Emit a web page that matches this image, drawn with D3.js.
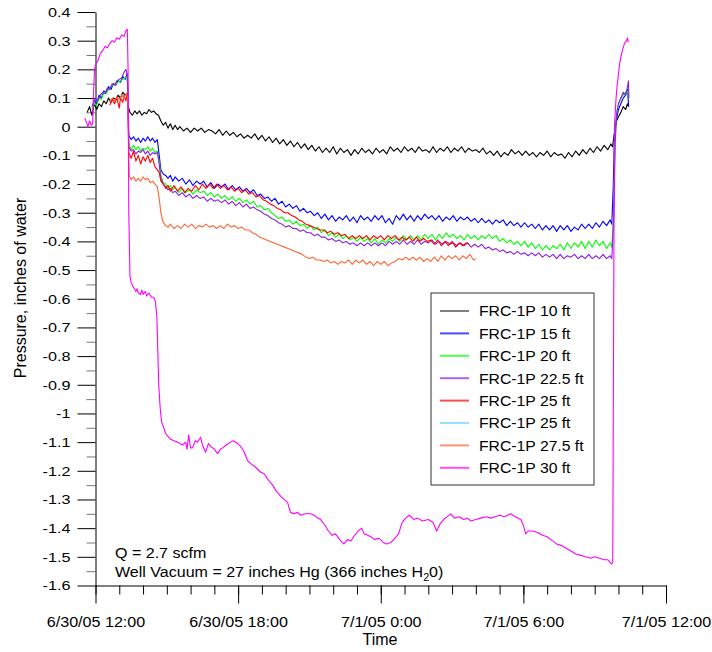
<!DOCTYPE html>
<html>
<head>
<meta charset="utf-8">
<script src="https://cdn.jsdelivr.net/npm/d3@7"></script>
<style>
  body { margin: 0; background: #fff; }
  svg text { font-family: "Liberation Sans", Arial, sans-serif; fill: #000; }
</style>
</head>
<body>
<div id="chart"></div>
<script>
// pressure readings, FRC-1P probe depths
// each point is [hours after 6/30/05 12:00, inches of water]

var frc10 = [[-0.35,0.05],[-0.25,0.07],[-0.15,0.04],[-0.05,0.08],[0.05,0.06],[0.15,0.08],[0.25,0.07],[0.35,0.09],[0.45,0.08],[0.55,0.1],[0.65,0.085],[0.75,0.1],[0.85,0.095],[0.95,0.11],[1.05,0.1],[1.15,0.12],[1.25,0.11],[1.33,0.115],[1.38,0.07],[1.45,0.05],[1.55,0.04],[1.65,0.055],[1.75,0.045],[1.85,0.055],[1.95,0.04],[2.05,0.05],[2.15,0.045],[2.25,0.06],[2.35,0.05],[2.45,0.055],[2.55,0.045],[2.65,0.04],[2.75,0.02],[2.85,0.005],[2.95,0.015],[3.05,-0.005],[3.15,0.01],[3.25,-0.01],[3.35,0.005],[3.45,-0.01],[3.55,0.0],[3.7,-0.015],[3.85,-0.005],[4.0,-0.02],[4.15,-0.005],[4.3,-0.015],[4.45,-0.005],[4.6,-0.02],[4.75,-0.01],[4.9,-0.015],[5.05,-0.025],[5.2,-0.01],[5.35,-0.03],[5.5,-0.015],[5.65,-0.03],[5.8,-0.02],[5.95,-0.035],[6.1,-0.025],[6.25,-0.04],[6.4,-0.03],[6.55,-0.04],[6.7,-0.025],[6.85,-0.045],[7.0,-0.03],[7.15,-0.05],[7.3,-0.035],[7.45,-0.055],[7.6,-0.04],[7.75,-0.06],[7.9,-0.045],[8.05,-0.065],[8.2,-0.05],[8.35,-0.07],[8.5,-0.055],[8.65,-0.075],[8.8,-0.06],[8.95,-0.08],[9.1,-0.065],[9.25,-0.085],[9.4,-0.07],[9.55,-0.09],[9.7,-0.075],[9.85,-0.09],[10.0,-0.07],[10.15,-0.095],[10.3,-0.075],[10.45,-0.09],[10.6,-0.08],[10.75,-0.1],[10.9,-0.08],[11.05,-0.095],[11.2,-0.075],[11.35,-0.09],[11.5,-0.08],[11.65,-0.095],[11.8,-0.075],[11.95,-0.09],[12.1,-0.08],[12.25,-0.095],[12.4,-0.07],[12.55,-0.085],[12.7,-0.075],[12.85,-0.09],[13.0,-0.07],[13.15,-0.085],[13.3,-0.075],[13.45,-0.09],[13.6,-0.07],[13.75,-0.085],[13.9,-0.08],[14.05,-0.09],[14.2,-0.07],[14.35,-0.09],[14.5,-0.075],[14.65,-0.085],[14.8,-0.07],[14.95,-0.09],[15.1,-0.075],[15.25,-0.085],[15.4,-0.07],[15.55,-0.09],[15.7,-0.075],[15.85,-0.085],[16.0,-0.08],[16.15,-0.09],[16.3,-0.075],[16.45,-0.095],[16.6,-0.085],[16.75,-0.1],[16.9,-0.085],[17.05,-0.105],[17.2,-0.09],[17.35,-0.1],[17.5,-0.08],[17.65,-0.095],[17.8,-0.085],[17.95,-0.1],[18.1,-0.085],[18.25,-0.1],[18.4,-0.09],[18.55,-0.105],[18.7,-0.09],[18.85,-0.1],[19.0,-0.085],[19.15,-0.105],[19.3,-0.09],[19.45,-0.1],[19.6,-0.095],[19.75,-0.11],[19.9,-0.09],[20.05,-0.105],[20.2,-0.085],[20.35,-0.1],[20.5,-0.08],[20.65,-0.095],[20.8,-0.075],[20.95,-0.09],[21.1,-0.07],[21.25,-0.085],[21.4,-0.065],[21.55,-0.08],[21.68,-0.06],[21.75,-0.07],[21.8,-0.04],[21.85,-0.01],[21.92,0.02],[22.0,0.035],[22.1,0.05],[22.2,0.07],[22.3,0.06],[22.38,0.08],[22.43,0.07]];

var frc15 = [[-0.15,0.07],[-0.05,0.09],[0.05,0.08],[0.15,0.11],[0.25,0.1],[0.35,0.125],[0.45,0.12],[0.55,0.14],[0.65,0.13],[0.75,0.15],[0.85,0.145],[0.95,0.16],[1.05,0.155],[1.15,0.175],[1.25,0.165],[1.33,0.185],[1.37,0.1],[1.4,-0.03],[1.5,-0.045],[1.6,-0.035],[1.7,-0.05],[1.8,-0.04],[1.9,-0.055],[2.0,-0.04],[2.1,-0.05],[2.2,-0.035],[2.3,-0.05],[2.4,-0.04],[2.5,-0.055],[2.6,-0.045],[2.68,-0.1],[2.75,-0.15],[2.85,-0.165],[2.95,-0.17],[3.05,-0.18],[3.15,-0.17],[3.25,-0.19],[3.35,-0.175],[3.5,-0.19],[3.65,-0.18],[3.8,-0.2],[3.95,-0.185],[4.1,-0.205],[4.25,-0.19],[4.4,-0.2],[4.55,-0.19],[4.7,-0.21],[4.85,-0.195],[5.0,-0.215],[5.15,-0.2],[5.3,-0.21],[5.45,-0.2],[5.6,-0.22],[5.75,-0.205],[5.9,-0.22],[6.05,-0.21],[6.2,-0.225],[6.35,-0.215],[6.5,-0.23],[6.65,-0.22],[6.8,-0.24],[6.95,-0.235],[7.1,-0.25],[7.25,-0.245],[7.4,-0.26],[7.55,-0.25],[7.7,-0.27],[7.85,-0.26],[8.0,-0.28],[8.15,-0.27],[8.3,-0.285],[8.45,-0.275],[8.6,-0.295],[8.75,-0.285],[8.9,-0.3],[9.05,-0.295],[9.2,-0.31],[9.35,-0.3],[9.5,-0.32],[9.65,-0.305],[9.8,-0.325],[9.95,-0.31],[10.1,-0.33],[10.25,-0.315],[10.4,-0.325],[10.55,-0.31],[10.7,-0.33],[10.85,-0.315],[11.0,-0.335],[11.15,-0.31],[11.3,-0.325],[11.45,-0.315],[11.6,-0.33],[11.75,-0.31],[11.9,-0.325],[12.05,-0.31],[12.2,-0.335],[12.35,-0.32],[12.5,-0.34],[12.65,-0.31],[12.8,-0.325],[12.95,-0.305],[13.1,-0.325],[13.25,-0.31],[13.4,-0.33],[13.55,-0.31],[13.7,-0.325],[13.85,-0.305],[14.0,-0.32],[14.15,-0.31],[14.3,-0.325],[14.45,-0.31],[14.6,-0.33],[14.75,-0.315],[14.9,-0.325],[15.05,-0.31],[15.2,-0.33],[15.35,-0.315],[15.5,-0.325],[15.65,-0.315],[15.8,-0.33],[15.95,-0.32],[16.1,-0.335],[16.25,-0.32],[16.4,-0.335],[16.55,-0.325],[16.7,-0.34],[16.85,-0.325],[17.0,-0.335],[17.15,-0.325],[17.3,-0.345],[17.45,-0.33],[17.6,-0.345],[17.75,-0.335],[17.9,-0.35],[18.05,-0.335],[18.2,-0.35],[18.35,-0.34],[18.5,-0.355],[18.65,-0.34],[18.8,-0.36],[18.95,-0.345],[19.1,-0.36],[19.25,-0.345],[19.4,-0.365],[19.55,-0.345],[19.7,-0.36],[19.85,-0.345],[20.0,-0.365],[20.15,-0.35],[20.3,-0.36],[20.45,-0.34],[20.6,-0.355],[20.75,-0.34],[20.9,-0.355],[21.05,-0.335],[21.2,-0.35],[21.35,-0.33],[21.5,-0.345],[21.65,-0.325],[21.72,-0.34],[21.78,-0.21],[21.83,-0.03],[21.9,0.02],[22.0,0.06],[22.1,0.08],[22.2,0.1],[22.3,0.11],[22.38,0.13],[22.43,0.07]];

var frc20 = [[-0.15,0.06],[-0.05,0.08],[0.05,0.075],[0.15,0.1],[0.25,0.095],[0.35,0.12],[0.45,0.115],[0.55,0.13],[0.65,0.14],[0.75,0.145],[0.85,0.15],[0.95,0.155],[1.05,0.16],[1.15,0.165],[1.25,0.17],[1.33,0.175],[1.37,0.1],[1.4,-0.06],[1.5,-0.08],[1.6,-0.065],[1.7,-0.08],[1.8,-0.07],[1.9,-0.085],[2.0,-0.075],[2.1,-0.08],[2.2,-0.07],[2.3,-0.085],[2.4,-0.075],[2.5,-0.09],[2.6,-0.085],[2.68,-0.12],[2.75,-0.17],[2.85,-0.195],[2.95,-0.2],[3.05,-0.215],[3.15,-0.205],[3.25,-0.22],[3.35,-0.21],[3.5,-0.23],[3.65,-0.215],[3.8,-0.23],[3.95,-0.22],[4.1,-0.235],[4.25,-0.22],[4.4,-0.23],[4.55,-0.225],[4.7,-0.24],[4.85,-0.23],[5.0,-0.245],[5.15,-0.235],[5.3,-0.25],[5.45,-0.24],[5.6,-0.255],[5.75,-0.245],[5.9,-0.26],[6.05,-0.25],[6.2,-0.265],[6.35,-0.255],[6.5,-0.27],[6.65,-0.26],[6.8,-0.28],[6.95,-0.275],[7.1,-0.29],[7.25,-0.285],[7.4,-0.3],[7.55,-0.31],[7.7,-0.32],[7.85,-0.315],[8.0,-0.33],[8.15,-0.325],[8.3,-0.34],[8.45,-0.33],[8.6,-0.345],[8.75,-0.34],[8.9,-0.355],[9.05,-0.345],[9.2,-0.36],[9.35,-0.35],[9.5,-0.37],[9.65,-0.36],[9.8,-0.38],[9.95,-0.37],[10.1,-0.385],[10.25,-0.375],[10.4,-0.39],[10.55,-0.38],[10.7,-0.395],[10.85,-0.385],[11.0,-0.4],[11.15,-0.385],[11.3,-0.4],[11.45,-0.39],[11.6,-0.405],[11.75,-0.39],[11.9,-0.41],[12.05,-0.395],[12.2,-0.405],[12.35,-0.39],[12.5,-0.4],[12.65,-0.385],[12.8,-0.4],[12.95,-0.38],[13.1,-0.395],[13.25,-0.38],[13.4,-0.395],[13.55,-0.38],[13.7,-0.395],[13.85,-0.375],[14.0,-0.39],[14.15,-0.375],[14.3,-0.395],[14.45,-0.375],[14.6,-0.39],[14.75,-0.37],[14.9,-0.385],[15.05,-0.375],[15.2,-0.39],[15.35,-0.38],[15.5,-0.395],[15.65,-0.375],[15.8,-0.39],[15.95,-0.38],[16.1,-0.395],[16.25,-0.38],[16.4,-0.39],[16.55,-0.375],[16.7,-0.39],[16.85,-0.38],[17.0,-0.4],[17.15,-0.39],[17.3,-0.405],[17.45,-0.395],[17.6,-0.41],[17.75,-0.4],[17.9,-0.415],[18.05,-0.4],[18.2,-0.42],[18.35,-0.405],[18.5,-0.425],[18.65,-0.41],[18.8,-0.43],[18.95,-0.415],[19.1,-0.43],[19.25,-0.415],[19.4,-0.425],[19.55,-0.41],[19.7,-0.43],[19.85,-0.405],[20.0,-0.425],[20.15,-0.405],[20.3,-0.42],[20.45,-0.4],[20.6,-0.425],[20.75,-0.4],[20.9,-0.42],[21.05,-0.395],[21.2,-0.415],[21.35,-0.4],[21.5,-0.425],[21.65,-0.405],[21.72,-0.42],[21.8,-0.3],[21.86,-0.05],[21.92,0.05],[22.0,0.08],[22.1,0.1],[22.2,0.11],[22.3,0.12],[22.38,0.125],[22.43,0.1]];

var frc22_5 = [[-0.1,0.08],[0.0,0.1],[0.1,0.09],[0.2,0.11],[0.3,0.12],[0.4,0.115],[0.5,0.135],[0.6,0.13],[0.7,0.15],[0.8,0.145],[0.9,0.16],[1.0,0.165],[1.1,0.17],[1.2,0.19],[1.28,0.2],[1.34,0.18],[1.37,0.1],[1.4,-0.07],[1.5,-0.085],[1.6,-0.08],[1.7,-0.095],[1.8,-0.085],[1.9,-0.09],[2.0,-0.08],[2.1,-0.095],[2.2,-0.085],[2.3,-0.1],[2.4,-0.09],[2.5,-0.095],[2.6,-0.09],[2.68,-0.13],[2.75,-0.18],[2.85,-0.2],[2.95,-0.21],[3.05,-0.22],[3.15,-0.215],[3.25,-0.23],[3.35,-0.225],[3.5,-0.24],[3.65,-0.23],[3.8,-0.245],[3.95,-0.235],[4.1,-0.25],[4.25,-0.24],[4.4,-0.25],[4.55,-0.245],[4.7,-0.26],[4.85,-0.25],[5.0,-0.26],[5.15,-0.255],[5.3,-0.265],[5.45,-0.255],[5.6,-0.27],[5.75,-0.26],[5.9,-0.275],[6.05,-0.265],[6.2,-0.28],[6.35,-0.27],[6.5,-0.285],[6.65,-0.28],[6.8,-0.29],[6.95,-0.295],[7.1,-0.305],[7.25,-0.31],[7.4,-0.32],[7.55,-0.325],[7.7,-0.335],[7.85,-0.34],[8.0,-0.35],[8.15,-0.345],[8.3,-0.355],[8.45,-0.355],[8.6,-0.365],[8.75,-0.36],[8.9,-0.37],[9.05,-0.37],[9.2,-0.38],[9.35,-0.375],[9.5,-0.385],[9.65,-0.385],[9.8,-0.395],[9.95,-0.39],[10.1,-0.4],[10.25,-0.395],[10.4,-0.405],[10.55,-0.4],[10.7,-0.41],[10.85,-0.405],[11.0,-0.415],[11.15,-0.405],[11.3,-0.415],[11.45,-0.405],[11.6,-0.415],[11.75,-0.405],[11.9,-0.415],[12.05,-0.405],[12.2,-0.415],[12.35,-0.4],[12.5,-0.41],[12.65,-0.4],[12.8,-0.41],[12.95,-0.395],[13.1,-0.41],[13.25,-0.4],[13.4,-0.41],[13.55,-0.395],[13.7,-0.41],[13.85,-0.4],[14.0,-0.405],[14.15,-0.395],[14.3,-0.41],[14.45,-0.4],[14.6,-0.41],[14.75,-0.4],[14.9,-0.41],[15.05,-0.405],[15.2,-0.415],[15.35,-0.405],[15.5,-0.415],[15.65,-0.405],[15.8,-0.42],[15.95,-0.41],[16.1,-0.42],[16.25,-0.41],[16.4,-0.425],[16.55,-0.42],[16.7,-0.43],[16.85,-0.425],[17.0,-0.435],[17.15,-0.43],[17.3,-0.44],[17.45,-0.435],[17.6,-0.445],[17.75,-0.435],[17.9,-0.445],[18.05,-0.44],[18.2,-0.45],[18.35,-0.44],[18.5,-0.45],[18.65,-0.44],[18.8,-0.455],[18.95,-0.445],[19.1,-0.455],[19.25,-0.445],[19.4,-0.46],[19.55,-0.445],[19.7,-0.46],[19.85,-0.45],[20.0,-0.455],[20.15,-0.445],[20.3,-0.46],[20.45,-0.45],[20.6,-0.46],[20.75,-0.445],[20.9,-0.46],[21.05,-0.45],[21.2,-0.46],[21.35,-0.445],[21.5,-0.46],[21.65,-0.45],[21.72,-0.46],[21.8,-0.32],[21.86,-0.06],[21.92,0.04],[22.0,0.08],[22.1,0.1],[22.2,0.12],[22.3,0.11],[22.38,0.14],[22.42,0.16],[22.44,0.1]];

var frc25 = [[0.6,0.075],[0.7,0.095],[0.8,0.08],[0.9,0.1],[1.0,0.065],[1.05,0.1],[1.15,0.085],[1.2,0.11],[1.28,0.09],[1.34,0.115],[1.37,0.05],[1.4,-0.09],[1.5,-0.11],[1.6,-0.085],[1.7,-0.12],[1.8,-0.1],[1.9,-0.13],[2.0,-0.105],[2.1,-0.12],[2.2,-0.1],[2.3,-0.125],[2.4,-0.11],[2.5,-0.14],[2.6,-0.15],[2.68,-0.16],[2.75,-0.19],[2.85,-0.2],[2.95,-0.215],[3.05,-0.205],[3.15,-0.225],[3.3,-0.205],[3.45,-0.225],[3.6,-0.21],[3.75,-0.23],[3.9,-0.215],[4.05,-0.225],[4.2,-0.205],[4.35,-0.22],[4.5,-0.2],[4.65,-0.215],[4.8,-0.2],[4.95,-0.215],[5.1,-0.2],[5.25,-0.215],[5.4,-0.205],[5.55,-0.22],[5.7,-0.21],[5.85,-0.225],[6.0,-0.215],[6.15,-0.23],[6.3,-0.22],[6.45,-0.235],[6.6,-0.23],[6.75,-0.245],[6.9,-0.24],[7.05,-0.255],[7.2,-0.26],[7.35,-0.27],[7.5,-0.275],[7.65,-0.285],[7.8,-0.29],[7.95,-0.3],[8.1,-0.3],[8.25,-0.31],[8.4,-0.315],[8.55,-0.325],[8.7,-0.33],[8.85,-0.34],[9.0,-0.345],[9.15,-0.35],[9.3,-0.355],[9.45,-0.36],[9.6,-0.36],[9.75,-0.37],[9.9,-0.365],[10.05,-0.375],[10.2,-0.37],[10.35,-0.38],[10.5,-0.375],[10.65,-0.39],[10.8,-0.38],[10.95,-0.39],[11.1,-0.38],[11.25,-0.39],[11.4,-0.38],[11.55,-0.395],[11.7,-0.38],[11.85,-0.39],[12.0,-0.38],[12.15,-0.395],[12.3,-0.38],[12.45,-0.39],[12.6,-0.38],[12.75,-0.395],[12.9,-0.385],[13.05,-0.395],[13.2,-0.385],[13.35,-0.4],[13.5,-0.385],[13.65,-0.4],[13.8,-0.39],[13.95,-0.4],[14.1,-0.395],[14.25,-0.41],[14.4,-0.395],[14.55,-0.415],[14.7,-0.4],[14.85,-0.415],[15.0,-0.4],[15.15,-0.42],[15.3,-0.405],[15.45,-0.415],[15.6,-0.405],[15.7,-0.41]];

var frc25b = [];   // second 25 ft probe, no trace visible

var frc27_5 = [[0.6,0.085],[0.7,0.1],[0.8,0.09],[0.9,0.105],[1.0,0.095],[1.1,0.11],[1.2,0.1],[1.3,0.115],[1.35,0.1],[1.38,0.0],[1.42,-0.17],[1.5,-0.185],[1.6,-0.175],[1.7,-0.19],[1.8,-0.18],[1.9,-0.19],[2.0,-0.175],[2.1,-0.185],[2.2,-0.18],[2.3,-0.195],[2.4,-0.19],[2.5,-0.2],[2.6,-0.21],[2.68,-0.25],[2.75,-0.3],[2.83,-0.33],[2.95,-0.345],[3.05,-0.35],[3.15,-0.34],[3.3,-0.355],[3.45,-0.345],[3.6,-0.355],[3.75,-0.34],[3.9,-0.35],[4.05,-0.34],[4.2,-0.355],[4.35,-0.345],[4.5,-0.35],[4.65,-0.34],[4.8,-0.35],[4.95,-0.345],[5.1,-0.355],[5.25,-0.345],[5.4,-0.355],[5.55,-0.34],[5.7,-0.35],[5.85,-0.345],[6.0,-0.355],[6.15,-0.35],[6.3,-0.36],[6.45,-0.36],[6.6,-0.37],[6.75,-0.375],[6.9,-0.385],[7.05,-0.39],[7.2,-0.395],[7.35,-0.4],[7.5,-0.405],[7.65,-0.41],[7.8,-0.415],[7.95,-0.42],[8.1,-0.425],[8.25,-0.43],[8.4,-0.435],[8.55,-0.44],[8.7,-0.445],[8.85,-0.455],[9.0,-0.46],[9.15,-0.455],[9.3,-0.465],[9.45,-0.465],[9.6,-0.47],[9.75,-0.465],[9.9,-0.475],[10.05,-0.47],[10.2,-0.48],[10.35,-0.47],[10.5,-0.475],[10.65,-0.465],[10.8,-0.48],[10.95,-0.465],[11.1,-0.475],[11.25,-0.465],[11.4,-0.48],[11.55,-0.47],[11.7,-0.485],[11.85,-0.47],[12.0,-0.48],[12.15,-0.47],[12.3,-0.485],[12.45,-0.475],[12.6,-0.47],[12.75,-0.46],[12.9,-0.465],[13.05,-0.455],[13.2,-0.465],[13.35,-0.455],[13.5,-0.465],[13.65,-0.455],[13.8,-0.47],[13.95,-0.46],[14.1,-0.47],[14.25,-0.455],[14.4,-0.47],[14.55,-0.45],[14.7,-0.465],[14.85,-0.45],[15.0,-0.46],[15.15,-0.45],[15.3,-0.465],[15.45,-0.45],[15.6,-0.46],[15.75,-0.445],[15.9,-0.465],[16.0,-0.46]];

var frc30 = [[-0.45,0.03],[-0.38,0.015],[-0.32,0.0],[-0.25,0.02],[-0.18,0.005],[-0.12,0.01],[-0.08,0.12],[-0.04,0.2],[0.0,0.215],[0.1,0.23],[0.2,0.255],[0.3,0.265],[0.4,0.28],[0.5,0.275],[0.6,0.29],[0.7,0.3],[0.8,0.295],[0.9,0.31],[1.0,0.305],[1.1,0.32],[1.2,0.315],[1.28,0.335],[1.34,0.34],[1.37,0.2],[1.4,-0.3],[1.45,-0.52],[1.5,-0.545],[1.6,-0.56],[1.7,-0.575],[1.75,-0.565],[1.8,-0.58],[1.9,-0.585],[1.95,-0.57],[2.0,-0.585],[2.1,-0.575],[2.15,-0.59],[2.25,-0.58],[2.35,-0.595],[2.45,-0.595],[2.52,-0.61],[2.58,-0.66],[2.62,-0.78],[2.66,-0.9],[2.72,-0.98],[2.78,-1.03],[2.85,-1.045],[2.95,-1.07],[3.05,-1.08],[3.16,-1.09],[3.3,-1.095],[3.45,-1.1],[3.55,-1.105],[3.66,-1.11],[3.79,-1.1],[3.85,-1.125],[3.92,-1.075],[4.0,-1.12],[4.08,-1.12],[4.2,-1.095],[4.29,-1.1],[4.42,-1.083],[4.5,-1.11],[4.63,-1.135],[4.75,-1.105],[4.84,-1.115],[5.0,-1.125],[5.14,-1.14],[5.25,-1.125],[5.35,-1.12],[5.5,-1.11],[5.68,-1.1],[5.8,-1.095],[5.98,-1.105],[6.1,-1.115],[6.23,-1.13],[6.4,-1.165],[6.53,-1.175],[6.7,-1.185],[6.95,-1.205],[7.1,-1.21],[7.25,-1.23],[7.45,-1.25],[7.6,-1.27],[7.8,-1.29],[8.08,-1.31],[8.2,-1.345],[8.35,-1.35],[8.5,-1.345],[8.63,-1.355],[8.8,-1.35],[9.05,-1.35],[9.2,-1.355],[9.35,-1.365],[9.47,-1.37],[9.65,-1.39],[9.8,-1.41],[9.95,-1.425],[10.1,-1.42],[10.32,-1.445],[10.45,-1.455],[10.6,-1.44],[10.74,-1.445],[10.9,-1.425],[11.05,-1.41],[11.2,-1.4],[11.3,-1.42],[11.45,-1.425],[11.58,-1.43],[11.75,-1.44],[11.9,-1.435],[12.0,-1.44],[12.1,-1.45],[12.25,-1.455],[12.42,-1.45],[12.55,-1.44],[12.75,-1.42],[12.9,-1.38],[13.05,-1.365],[13.2,-1.355],[13.4,-1.37],[13.55,-1.365],[13.75,-1.375],[14.0,-1.37],[14.2,-1.38],[14.35,-1.41],[14.5,-1.385],[14.65,-1.37],[14.8,-1.36],[14.95,-1.35],[15.1,-1.365],[15.3,-1.36],[15.5,-1.37],[15.65,-1.365],[15.79,-1.375],[16.0,-1.37],[16.2,-1.365],[16.45,-1.36],[16.63,-1.365],[16.8,-1.36],[17.0,-1.355],[17.2,-1.36],[17.47,-1.35],[17.65,-1.36],[17.89,-1.37],[18.0,-1.39],[18.1,-1.42],[18.2,-1.41],[18.4,-1.41],[18.6,-1.415],[18.8,-1.425],[19.0,-1.43],[19.16,-1.44],[19.4,-1.455],[19.58,-1.46],[19.8,-1.47],[20.0,-1.48],[20.2,-1.49],[20.42,-1.495],[20.6,-1.5],[20.84,-1.505],[21.0,-1.5],[21.2,-1.505],[21.4,-1.51],[21.55,-1.51],[21.7,-1.525],[21.76,-1.52],[21.8,-0.6],[21.83,0.0],[21.9,0.1],[21.94,0.14],[22.05,0.22],[22.13,0.255],[22.25,0.29],[22.34,0.3],[22.38,0.31],[22.42,0.295]];

var seriesNames = ["FRC-1P 10 ft", "FRC-1P 15 ft", "FRC-1P 20 ft", "FRC-1P 22.5 ft",
                   "FRC-1P 25 ft", "FRC-1P 25 ft", "FRC-1P 27.5 ft", "FRC-1P 30 ft"];
var seriesData = [frc10, frc15, frc20, frc22_5, frc25, frc25b, frc27_5, frc30];
var seriesColors = ["#000000", "#0000ff", "#00ff00", "#8a1ee0",
                    "#ff0000", "#66d9ff", "#ff6633", "#ff00ff"];

var yTicks = d3.range(-16, 5).map(function(d) { return d / 10; });
var notes = ["Q = 2.7 scfm", "Well Vacuum = 27 inches Hg (366 inches H"];

var width = 712,
    height = 652;

var t0 = new Date(2005, 5, 30, 12);
function at(h) { return new Date(t0.getTime() + h * 3600000); }

// the source picture has its lettering a bit wide, so text gets a horizontal stretch
function stretch(sel, k) {
  sel.each(function() {
    var t = d3.select(this),
        tx = +t.attr("x") || 0,
        ty = +t.attr("y") || 0;
    t.attr("transform", "translate(" + tx + "," + ty + ") scale(" + k + ",1) translate(" + (-tx) + "," + (-ty) + ")");
  });
}

var x = d3.scaleTime()
    .domain([at(0), at(24)])
    .range([95.5, 666]);

var y = d3.scaleLinear()
    .domain([-1.6, 0.4])
    .range([585.5, 12]);

var svg = d3.select("#chart").append("svg")
    .attr("width", width)
    .attr("height", height);

// x axis: major every 6 hours, minor every hour
var majorX = d3.timeHour.every(6).range(at(0), at(24.01));
var minorX = d3.timeHour.every(1).range(at(0), at(24.01));

svg.append("g")
    .attr("class", "xminor")
    .attr("transform", "translate(0,585.5)")
    .call(d3.axisBottom(x).tickValues(minorX).tickSize(9).tickSizeOuter(0).tickFormat(""));

svg.append("g")
    .attr("class", "xaxis")
    .attr("transform", "translate(0,585.5)")
    .call(d3.axisBottom(x).tickValues(majorX).tickSize(18).tickSizeOuter(0)
      .tickPadding(13).tickFormat(d3.timeFormat("%-m/%-d/%y %-H:%M")));

// y axis
svg.append("g")
    .attr("class", "yminor")
    .attr("transform", "translate(95.5,0)")
    .call(d3.axisLeft(y).tickValues(yTicks.slice(0, -1).map(function(d) { return d + 0.05; }))
      .tickSize(9).tickSizeOuter(0).tickFormat(""));

svg.append("g")
    .attr("class", "yaxis")
    .attr("transform", "translate(95.5,0)")
    .call(d3.axisLeft(y).tickValues(yTicks).tickSize(18).tickSizeOuter(0).tickPadding(7)
      .tickFormat(function(d) { return +d.toFixed(1); }));

svg.selectAll(".xaxis text").style("font-size", "15.5px");
svg.selectAll(".yaxis text").style("font-size", "13.5px");
stretch(svg.selectAll(".xaxis text"), 1.04);
stretch(svg.selectAll(".yaxis text"), 1.2);
svg.selectAll(".yminor line").attr("stroke", "#777");
svg.selectAll(".xminor .domain, .yminor .domain").remove();

svg.append("text")
    .attr("x", 380)
    .attr("y", 645)
    .attr("text-anchor", "middle")
    .style("font-size", "16px")
    .text("Time");

svg.append("text")
    .attr("transform", "translate(26,288) rotate(-90)")
    .attr("text-anchor", "middle")
    .style("font-size", "16px")
    .text("Pressure, inches of water");

// the traces
var line = d3.line()
    .x(function(d) { return x(at(d[0])); })
    .y(function(d) { return y(d[1]); });

svg.selectAll(".trace")
    .data(seriesData)
    .enter().append("path")
    .attr("class", "trace")
    .attr("d", function(d) { return d.length ? line(d) : null; })
    .attr("fill", "none")
    .attr("stroke", function(d, i) { return seriesColors[i]; })
    .attr("stroke-width", 1.1)
    .attr("stroke-linejoin", "round");

// legend
var legend = svg.append("g").attr("transform", "translate(431,293)");

legend.append("rect")
    .attr("width", 163)
    .attr("height", 192)
    .attr("fill", "#fff")
    .attr("stroke", "#333")
    .attr("stroke-width", 1);

var item = legend.selectAll(".item")
    .data(seriesNames)
    .enter().append("g")
    .attr("transform", function(d, i) { return "translate(0," + (18 + i * 22.4) + ")"; });

item.append("line")
    .attr("x1", 9).attr("x2", 38)
    .attr("stroke", function(d, i) { return seriesColors[i]; })
    .attr("stroke-width", function(d, i) { return i == 0 ? 1 : 2; })
    .attr("stroke-opacity", function(d, i) { return i == 0 ? 1 : 0.7; });

item.append("text")
    .attr("x", 48)
    .attr("dy", "0.36em")
    .style("font-size", "15px")
    .text(function(d) { return d; });
stretch(item.selectAll("text"), 1.05);

// notes at the bottom left
svg.append("text")
    .attr("class", "note")
    .attr("x", 115).attr("y", 558)
    .style("font-size", "15px")
    .text(notes[0]);

var well = svg.append("text")
    .attr("class", "note")
    .attr("x", 115).attr("y", 577)
    .style("font-size", "15px")
    .text(notes[1]);
well.append("tspan").attr("dy", 4).style("font-size", "10px").text("2");
well.append("tspan").attr("dy", -4).text("0)");
stretch(svg.selectAll(".note"), 1.07);
</script>
</body>
</html>
